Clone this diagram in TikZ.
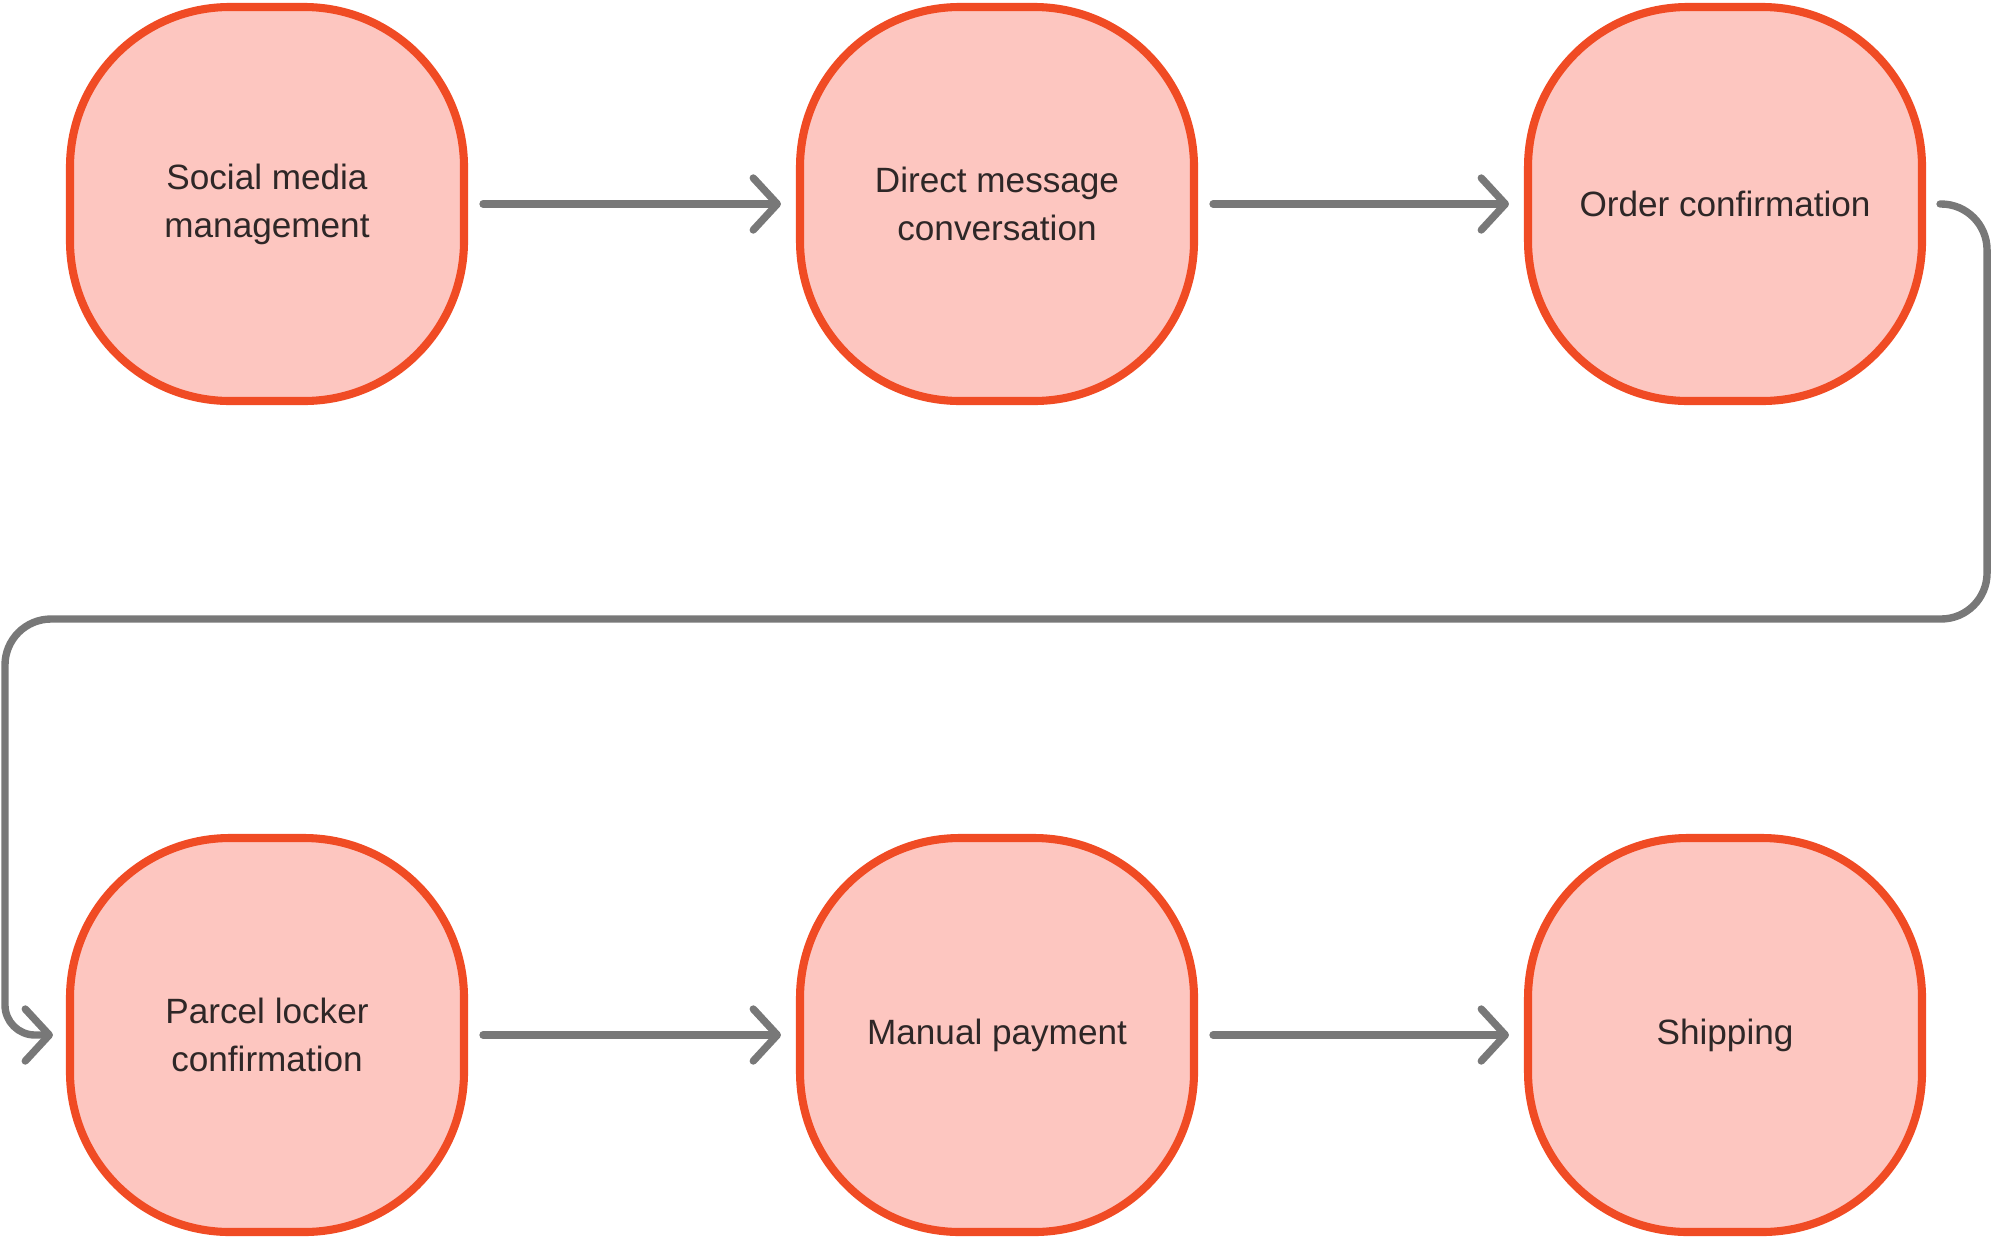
\documentclass[tikz,border=0pt]{standalone}
\usepackage{fontspec}
\setmainfont{Liberation Sans}
\usetikzlibrary{arrows.meta}
\definecolor{stepfill}{HTML}{FDC6C0}
\definecolor{stepline}{HTML}{F04B24}
\definecolor{flowgray}{HTML}{787878}
\definecolor{steptext}{HTML}{2E2727}

\begin{document}
\begin{tikzpicture}[
  stepbox/.style={draw=stepline, fill=stepfill, line width=2.3pt, rounded corners=1.6cm,
    minimum width=3.94cm, minimum height=3.94cm, align=center, text=steptext,
    font=\fontsize{10}{13.7}\selectfont},
  flow/.style={draw=flowgray, line width=2.1pt, line cap=round,
    -{Straight Barb[length=2.4mm,width=5.2mm,round]}}]
  \useasboundingbox (0,0) rectangle (19.93,12.40);
  \node[stepbox] (social) at (2.67,10.36) {Social media\\management};
  \node[stepbox] (direct) at (9.97,10.36) {Direct message\\conversation};
  \node[stepbox] (order) at (17.25,10.36) {Order confirmation};
  \node[stepbox] (parcel) at (2.67,2.05) {Parcel locker\\confirmation};
  \node[stepbox] (payment) at (9.97,2.05) {Manual payment};
  \node[stepbox] (shipping) at (17.25,2.05) {Shipping};
  \draw[flow] ([xshift=0.15cm]social.east) -- ([xshift=-0.15cm]direct.west);
  \draw[flow] ([xshift=0.15cm]direct.east) -- ([xshift=-0.15cm]order.west);
  \draw[flow, rounded corners=0.46cm] ([xshift=0.14cm]order.east) -- ++(0.47,0)
    |- (0.05,6.21) [rounded corners=0.3cm] |- ([xshift=-0.13cm]parcel.west);
  \draw[flow] ([xshift=0.15cm]parcel.east) -- ([xshift=-0.15cm]payment.west);
  \draw[flow] ([xshift=0.15cm]payment.east) -- ([xshift=-0.15cm]shipping.west);
\end{tikzpicture}
\end{document}
